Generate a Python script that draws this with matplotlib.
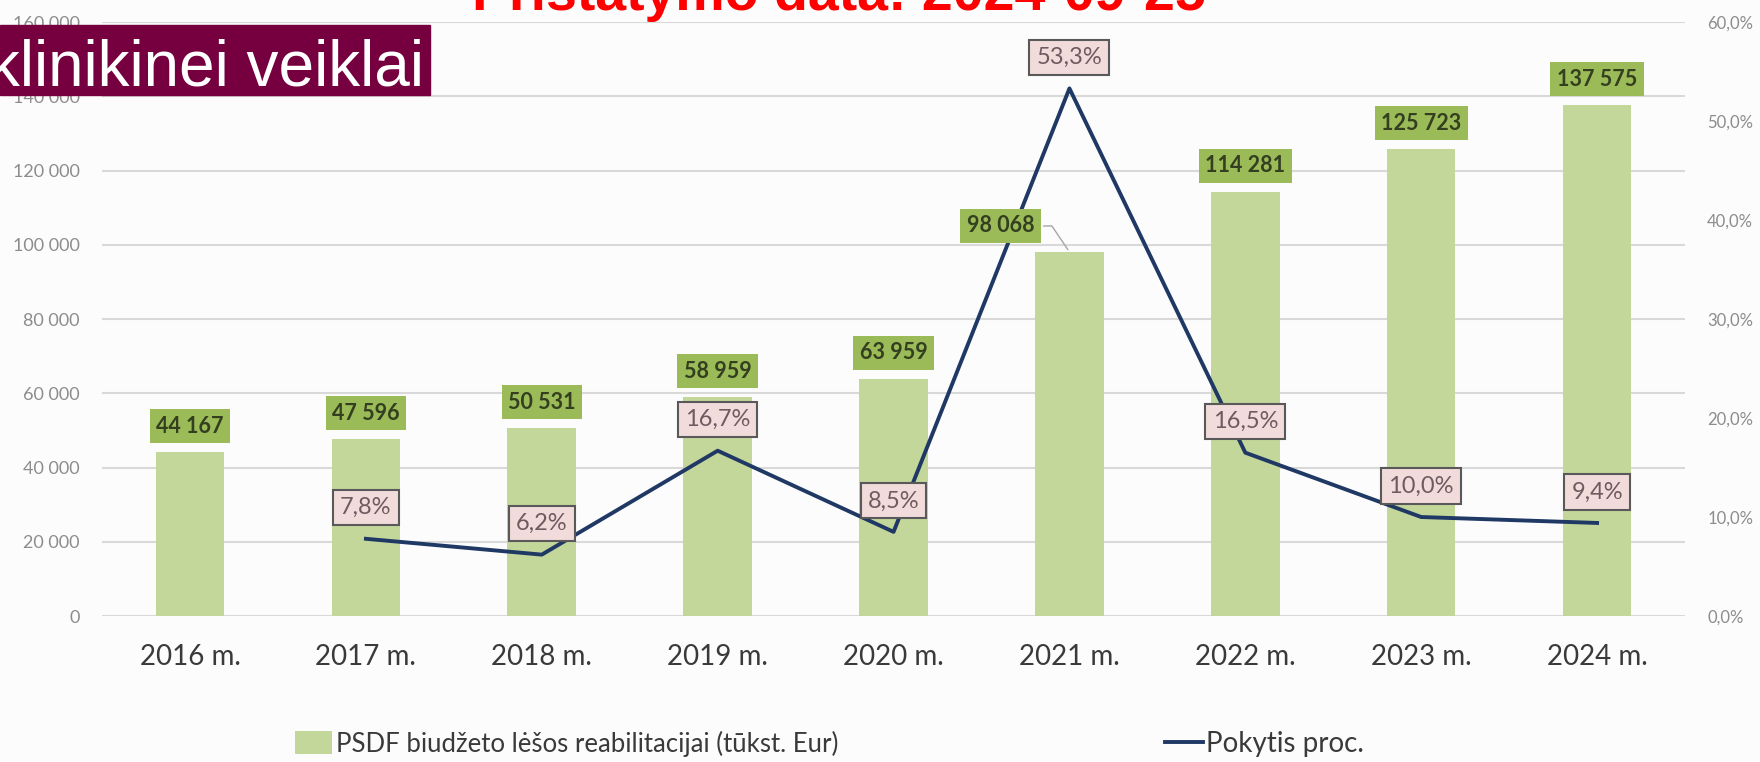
"""
PSDF 预算图表 - Budget Chart
=================================
复现幻灯片中的组合图：
1. 柱状图 (PSDF 预算, 千欧元)
2. 折线图 (变化百分比, 次坐标轴)
3. 数据标签、图例与标题
"""

import numpy as np
import matplotlib.pyplot as plt
from matplotlib.patches import Rectangle

# 设置字体显示
plt.rcParams['font.family'] = ['Lato', 'DejaVu Sans']
plt.rcParams['axes.unicode_minus'] = False


# ============================================================
# 1. 数据
# ============================================================
years = ['2016 m.', '2017 m.', '2018 m.', '2019 m.', '2020 m.',
         '2021 m.', '2022 m.', '2023 m.', '2024 m.']
budget = np.array([44167, 47596, 50531, 58959, 63959, 98068, 114281, 125723, 137575])
change = np.array([np.nan, 7.8, 6.2, 16.7, 8.5, 53.3, 16.5, 10.0, 9.4])

BG = '#FDFCFD'
BAR_COLOR = '#C4D79B'
LINE_COLOR = '#1F3864'


def fmt_thousands(v, pos=None):
    """千位用空格分隔"""
    return f"{v:,.0f}".replace(',', ' ')


def fmt_percent(v, pos=None):
    """百分比用逗号作小数点"""
    return f"{v:.1f}%".replace('.', ',')


# ============================================================
# 2. 数据标签
# ============================================================
def add_bar_labels(ax, ax2, x):
    """柱顶绿色标签 (2021 年标签偏左并带引线)"""
    for xi, v in zip(x, budget):
        style = dict(ha='center', va='center', fontsize=15.5, fontweight='bold',
                     color='#333F1F', xycoords=ax.transData, textcoords='offset pixels',
                     bbox=dict(boxstyle='square,pad=0.3', fc='#9BBB59', ec='none'))
        if years[xi] == '2021 m.':
            ax2.annotate(fmt_thousands(v), xy=(xi, v), xytext=(-69, 26),
                         arrowprops=dict(arrowstyle='-', color='#A6A6A6', lw=1,
                                         connectionstyle='angle,angleA=0,angleB=-56,rad=0'),
                         **style)
        else:
            ax2.annotate(fmt_thousands(v), xy=(xi, v), xytext=(0, 26), **style)


def add_line_labels(ax2, x):
    """折线上方粉色百分比标签"""
    for xi, p in zip(x, change):
        if np.isnan(p):
            continue
        ax2.annotate(fmt_percent(p), xy=(xi, p), xytext=(0, 31),
                     textcoords='offset pixels', ha='center', va='center',
                     fontsize=17, color='#6D5B60',
                     bbox=dict(boxstyle='square,pad=0.3', fc='#F2DCDB',
                               ec='#595959', lw=1.5))


# ============================================================
# 3. 可视化
# ============================================================
def plot_budget_chart():
    """柱状图 + 折线图 (双坐标轴)"""
    fig = plt.figure(figsize=(17.6, 7.62), dpi=100, facecolor=BG)
    ax = fig.add_axes([0.058, 0.1916, 0.8994, 0.7794])
    ax.set_facecolor(BG)
    x = np.arange(len(years))

    bars = ax.bar(x, budget, width=0.39, color=BAR_COLOR, zorder=2,
                  label='PSDF biudžeto lėšos reabilitacijai (tūkst. Eur)')
    ax.set_xlim(-0.5, len(years) - 0.5)
    ax.set_ylim(0, 160000)
    ax.set_yticks(np.arange(0, 160001, 20000))
    ax.yaxis.set_major_formatter(plt.FuncFormatter(fmt_thousands))
    ax.set_xticks(x, years)
    ax.grid(axis='y', color='#D9D9D9', linewidth=1.5, zorder=0)
    ax.set_axisbelow(True)
    for s in ax.spines.values():
        s.set_visible(False)
    ax.tick_params(axis='y', length=0, labelsize=13, labelcolor='#8C8C8C', pad=16)
    ax.tick_params(axis='x', length=0, labelsize=20, labelcolor='#3A3A3A', pad=20)

    # 次坐标轴: 变化百分比
    ax2 = ax.twinx()
    line, = ax2.plot(x, change, color=LINE_COLOR, linewidth=2.8, zorder=3,
                     label='Pokytis proc.')
    ax2.set_ylim(0, 60)
    ax2.set_yticks(np.arange(0, 61, 10))
    ax2.yaxis.set_major_formatter(plt.FuncFormatter(fmt_percent))
    for s in ax2.spines.values():
        s.set_visible(False)
    ax2.tick_params(axis='y', length=0, labelsize=12, labelcolor='#8C8C8C', pad=16)

    add_bar_labels(ax, ax2, x)
    add_line_labels(ax2, x)

    # 图例 (两项分开放置)
    fig.legend(handles=[bars], loc='center left', bbox_to_anchor=(295 / 1760, 0.024),
               frameon=False, fontsize=18.5, handlelength=1.45, handleheight=1.0,
               handletextpad=0.15, borderpad=0, borderaxespad=0, labelcolor='#3A3A3A')
    fig.legend(handles=[line], loc='center left', bbox_to_anchor=(1165 / 1760, 0.024),
               frameon=False, fontsize=20, handlelength=1.35, handletextpad=0.12,
               borderpad=0, borderaxespad=0, labelcolor='#3A3A3A')

    # 幻灯片标题与标签
    fig.add_artist(Rectangle((0, 1 - 95 / 762), 430 / 1760, 70 / 762,
                             transform=fig.transFigure, color='#76003F', zorder=5))
    fig.text(424 / 1760, 1 - 86 / 762, 'klinikinei veiklai', ha='right', va='baseline',
             fontsize=46, color='white', family='Liberation Sans', zorder=6)
    fig.text(839 / 1760, 1 - 10 / 762, 'Pristatymo data: 2024-09-25', ha='center',
             va='baseline', fontsize=40, fontweight='bold', color='#FF0000',
             family='Liberation Sans', zorder=6)

    plt.savefig('out.png', dpi=100, facecolor=BG)
    print("图表已保存")


# ============================================================
# 主程序
# ============================================================
if __name__ == '__main__':
    plot_budget_chart()
